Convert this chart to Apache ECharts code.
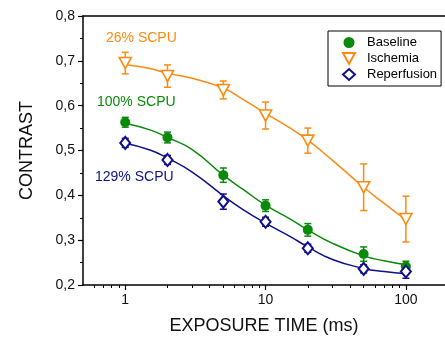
<!DOCTYPE html>
<html>
<head>
<meta charset="utf-8">
<script src="https://cdn.jsdelivr.net/npm/echarts@6/dist/echarts.min.js"></script>
<style>
html, body { margin: 0; padding: 0; background: #fff; }
#main { width: 445px; height: 340px; }
</style>
</head>
<body>
<div id="main"></div>
<script>
// exposure times (ms)
var times = [1, 2, 5, 10, 20, 50, 100];
var baseline = [0.563, 0.529, 0.445, 0.377, 0.323, 0.269, 0.241];
var baselineErr = [0.011, 0.012, 0.016, 0.013, 0.014, 0.016, 0.012];
var ischemia = [0.695, 0.666, 0.635, 0.578, 0.522, 0.418, 0.347];
var ischemiaErr = [0.024, 0.025, 0.020, 0.030, 0.028, 0.052, 0.051];
var reperfusion = [0.517, 0.479, 0.386, 0.341, 0.282, 0.236, 0.230];
var reperfusionErr = [0.010, 0.010, 0.017, 0.010, 0.009, 0.009, 0.015];

// fitted curves
var fitTimes = [1, 1.5, 2, 3, 5, 7, 10, 15, 20, 30, 50, 70, 100];
var baselineFit = [0.561, 0.546, 0.529, 0.502, 0.445, 0.412, 0.378, 0.347, 0.323, 0.293, 0.265, 0.254, 0.245];
var ischemiaFit = [0.691, 0.683, 0.672, 0.661, 0.639, 0.613, 0.583, 0.550, 0.523, 0.478, 0.418, 0.382, 0.345];
var reperfusionFit = [0.516, 0.501, 0.483, 0.452, 0.399, 0.367, 0.338, 0.308, 0.285, 0.257, 0.237, 0.230, 0.225];

var majorTicks = [1, 10, 100];
var minorTicks = [0.6, 0.7, 0.8, 0.9, 2, 3, 4, 5, 6, 7, 8, 9, 20, 30, 40, 50, 60, 70, 80, 90];

var cGreen = '#0a8a0a';
var cOrange = '#ff8a10';
var cNavy = '#10108a';
var font = 'Liberation Sans, Arial, sans-serif';

var lg = function (v) { return Math.log10(v); };
var xMin = lg(0.5), xMax = lg(190);

function pts(xs, ys) {
    var out = [];
    for (var i = 0; i < xs.length; i++) out.push([lg(xs[i]), ys[i]]);
    return out;
}
function errs(xs, ys, es) {
    var out = [];
    for (var i = 0; i < xs.length; i++) out.push([lg(xs[i]), ys[i] - es[i], ys[i] + es[i]]);
    return out;
}

function errSeries(data, color) {
    return {
        type: 'custom',
        xAxisIndex: 0,
        z: 3,
        silent: true,
        data: data,
        renderItem: function (params, api) {
            var x = api.value(0);
            var top = api.coord([x, api.value(2)]);
            var bot = api.coord([x, api.value(1)]);
            var w = 3.5;
            var st = { stroke: color, lineWidth: 1.5 };
            return {
                type: 'group',
                children: [
                    { type: 'line', shape: { x1: top[0], y1: top[1], x2: bot[0], y2: bot[1] }, style: st },
                    { type: 'line', shape: { x1: top[0] - w, y1: top[1], x2: top[0] + w, y2: top[1] }, style: st },
                    { type: 'line', shape: { x1: bot[0] - w, y1: bot[1], x2: bot[0] + w, y2: bot[1] }, style: st }
                ]
            };
        }
    };
}

function fitSeries(data, color) {
    return {
        type: 'line',
        xAxisIndex: 0,
        z: 2,
        silent: true,
        smooth: true,
        showSymbol: false,
        data: data,
        lineStyle: { color: color, width: 1.5 }
    };
}

var chart = echarts.init(document.getElementById('main'));
chart.setOption({
    animation: false,
    grid: { left: 83, right: 0, top: 16, bottom: 55 },
    legend: {
        orient: 'vertical',
        left: 328,
        top: 31,
        padding: [5, 4, 5, 14],
        itemWidth: 12,
        itemHeight: 11,
        itemGap: 3,
        borderColor: '#000',
        borderWidth: 1,
        borderRadius: 0,
        textStyle: { fontFamily: font, fontSize: 13, color: '#000', padding: [0, 0, 0, 7] },
        data: ['Baseline', 'Ischemia', 'Reperfusion']
    },
    xAxis: [
        {
            type: 'value', min: xMin, max: xMax, position: 'bottom',
            name: 'EXPOSURE TIME (ms)', nameLocation: 'middle', nameGap: 32,
            nameTextStyle: { fontFamily: font, fontSize: 18, color: '#111' },
            axisLine: { onZero: false, lineStyle: { color: '#000', width: 1.5 } },
            axisTick: { length: 5, lineStyle: { color: '#000', width: 1.2 }, customValues: majorTicks.map(lg) },
            axisLabel: {
                margin: 8, fontFamily: font, fontSize: 14, color: '#111',
                customValues: majorTicks.map(lg),
                formatter: function (v) { return String(Math.round(Math.pow(10, v))); }
            },
            splitLine: { show: false }
        },
        {
            type: 'value', min: xMin, max: xMax, position: 'bottom',
            axisLine: { show: false, onZero: false },
            axisTick: { length: 3, lineStyle: { color: '#000', width: 1 }, customValues: minorTicks.map(lg) },
            axisLabel: { show: false },
            splitLine: { show: false }
        },
        {
            type: 'value', min: xMin, max: xMax, position: 'top',
            axisLine: { onZero: false, lineStyle: { color: '#000', width: 1.5 } },
            axisTick: { show: false },
            axisLabel: { show: false },
            splitLine: { show: false }
        }
    ],
    yAxis: {
        type: 'value', min: 0.2, max: 0.8, interval: 0.1, position: 'left',
        name: 'CONTRAST', nameLocation: 'middle', nameRotate: 90, nameGap: 47,
        nameTextStyle: { fontFamily: font, fontSize: 18, color: '#111' },
        axisLine: { show: true, onZero: false, lineStyle: { color: '#000', width: 1.5 } },
        axisTick: { show: true, length: 5, lineStyle: { color: '#000', width: 1.2 } },
        minorTick: { show: true, splitNumber: 2, length: 3, lineStyle: { color: '#000', width: 1 } },
        axisLabel: {
            margin: 8, fontFamily: font, fontSize: 14, color: '#111',
            formatter: function (v) { return v.toFixed(1).replace('.', ','); }
        },
        splitLine: { show: false }
    },
    graphic: [
        { type: 'text', x: 106, y: 38, style: { text: '26% SCPU', fill: cOrange, font: '14px ' + font, verticalAlign: 'middle' } },
        { type: 'text', x: 97, y: 102, style: { text: '100% SCPU', fill: cGreen, font: '14px ' + font, verticalAlign: 'middle' } },
        { type: 'text', x: 95, y: 177, style: { text: '129% SCPU', fill: cNavy, font: '14px ' + font, verticalAlign: 'middle' } }
    ],
    series: [
        fitSeries(pts(fitTimes, ischemiaFit), cOrange),
        fitSeries(pts(fitTimes, baselineFit), cGreen),
        fitSeries(pts(fitTimes, reperfusionFit), cNavy),
        errSeries(errs(times, ischemia, ischemiaErr), cOrange),
        errSeries(errs(times, baseline, baselineErr), cGreen),
        errSeries(errs(times, reperfusion, reperfusionErr), cNavy),
        {
            name: 'Baseline', type: 'scatter', xAxisIndex: 0, z: 5,
            data: pts(times, baseline),
            symbol: 'circle', symbolSize: 10,
            itemStyle: { color: cGreen, opacity: 1 }
        },
        {
            name: 'Ischemia', type: 'scatter', xAxisIndex: 0, z: 5,
            data: pts(times, ischemia),
            symbol: 'path://M0,0 L10,0 L5,9 Z', symbolSize: [12, 11],
            itemStyle: { color: '#fff', borderColor: cOrange, borderWidth: 1.6, opacity: 1 }
        },
        {
            name: 'Reperfusion', type: 'scatter', xAxisIndex: 0, z: 5,
            data: pts(times, reperfusion),
            symbol: 'diamond', symbolSize: [10, 12],
            itemStyle: { color: '#fff', borderColor: cNavy, borderWidth: 2, opacity: 1 }
        }
    ]
});
</script>
</body>
</html>
